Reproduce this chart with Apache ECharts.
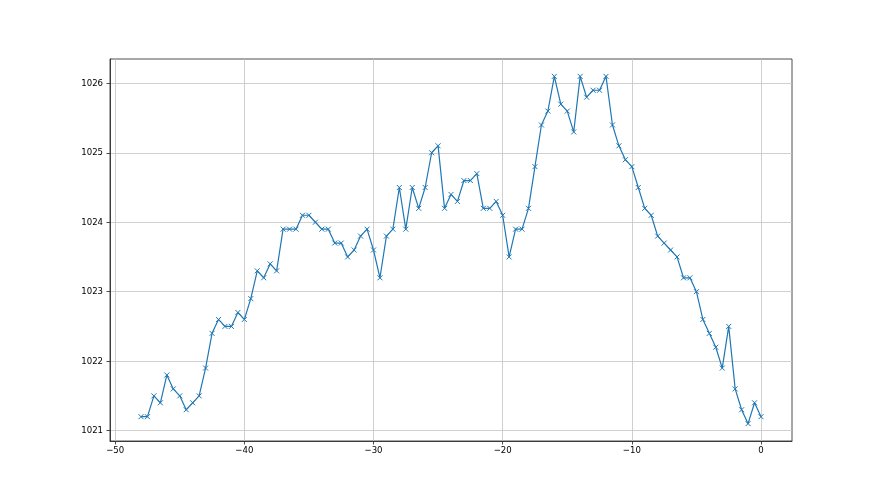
<!DOCTYPE html>
<html>
<head>
<meta charset="utf-8">
<script src="https://cdn.jsdelivr.net/npm/echarts@6/dist/echarts.min.js"></script>
<style>
  html, body { margin: 0; padding: 0; background: #fff; }
  #chart { width: 880px; height: 495px; }
</style>
</head>
<body>
<div id="chart"></div>
<script>
// hours before now, every half hour
var hours = [];
for (var i = -96; i <= 0; i++) hours.push(i / 2);

// pressure readings (hPa), one per half hour from -48 to 0
var pressure = [
  1021.2, 1021.2, 1021.5, 1021.4, 1021.8, 1021.6, 1021.5, 1021.3, 1021.4, 1021.5,
  1021.9, 1022.4, 1022.6, 1022.5, 1022.5, 1022.7, 1022.6, 1022.9, 1023.3, 1023.2,
  1023.4, 1023.3, 1023.9, 1023.9, 1023.9, 1024.1, 1024.1, 1024.0, 1023.9, 1023.9,
  1023.7, 1023.7, 1023.5, 1023.6, 1023.8, 1023.9, 1023.6, 1023.2, 1023.8, 1023.9,
  1024.5, 1023.9, 1024.5, 1024.2, 1024.5, 1025.0, 1025.1, 1024.2, 1024.4, 1024.3,
  1024.6, 1024.6, 1024.7, 1024.2, 1024.2, 1024.3, 1024.1, 1023.5, 1023.9, 1023.9,
  1024.2, 1024.8, 1025.4, 1025.6, 1026.1, 1025.7, 1025.6, 1025.3, 1026.1, 1025.8,
  1025.9, 1025.9, 1026.1, 1025.4, 1025.1, 1024.9, 1024.8, 1024.5, 1024.2, 1024.1,
  1023.8, 1023.7, 1023.6, 1023.5, 1023.2, 1023.2, 1023.0, 1022.6, 1022.4, 1022.2,
  1021.9, 1022.5, 1021.6, 1021.3, 1021.1, 1021.4, 1021.2
];

var xTicks = [-50, -40, -30, -20, -10, 0];
var yTicks = [1021, 1022, 1023, 1024, 1025, 1026];

var chart = echarts.init(document.getElementById("chart"));

var labelFont = {
  color: "#000",
  fontSize: 9.5,
  fontFamily: "'Liberation Sans Narrow', 'DejaVu Sans Condensed', 'Liberation Sans', sans-serif"
};

var option = {
  animation: false,
  grid: {
    left: 110,
    right: 88,
    top: 59,
    bottom: 54,
    show: true,
    borderColor: "#222",
    borderWidth: 0.8,
    backgroundColor: "transparent"
  },
  xAxis: {
    type: "value",
    min: -50.4,
    max: 2.4,
    axisLine: { show: true, onZero: false, lineStyle: { color: "#222", width: 0.8 } },
    axisTick: { show: true, length: 3.5, customValues: xTicks, lineStyle: { color: "#222", width: 0.8 } },
    axisLabel: Object.assign({ margin: 5, customValues: xTicks, formatter: function (v) { return String(v).replace("-", "\u2212"); } }, labelFont),
    splitLine: { show: true, lineStyle: { color: "#c4c4c4", width: 0.8 } }
  },
  yAxis: {
    type: "value",
    min: 1020.85,
    max: 1026.35,
    axisLine: { show: true, onZero: false, lineStyle: { color: "#222", width: 0.8 } },
    axisTick: { show: true, length: 3.5, customValues: yTicks, lineStyle: { color: "#222", width: 0.8 } },
    axisLabel: Object.assign({ margin: 7, customValues: yTicks, formatter: function (v) { return String(v); } }, labelFont),
    splitLine: { show: true, lineStyle: { color: "#c4c4c4", width: 0.8 } }
  },
  series: [
    {
      type: "line",
      data: hours.map(function (h, i) { return [h, pressure[i]]; }),
      symbol: "path://M0,0L10,10M10,0L0,10",
      symbolSize: 5,
      showAllSymbol: true,
      lineStyle: { color: "#1f77b4", width: 1.2 },
      itemStyle: { color: "#1f77b4", borderColor: "#1f77b4", borderWidth: 1 }
    }
  ]
};

chart.setOption(option);
</script>
</body>
</html>
